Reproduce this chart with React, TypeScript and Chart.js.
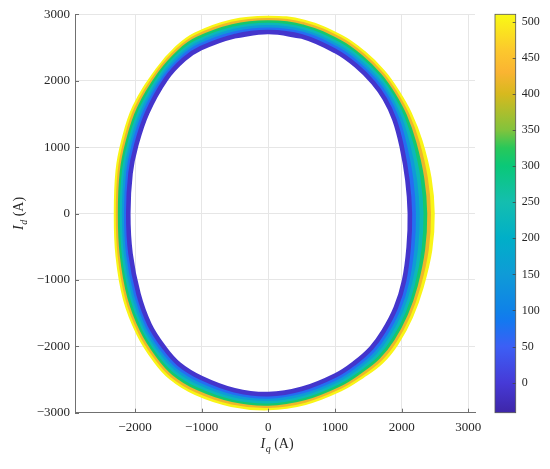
import React, { useEffect, useRef } from 'react';
import { Chart, registerables } from 'chart.js';

Chart.register(...registerables);

const FONT = '"Liberation Serif", "Times New Roman", serif';

// Colour levels of the drawn loops (colour-bar units), inner to outer
const levels = [-10, 70, 150, 230, 310, 420, 505];

// Loops of (Iq, Id) in A, inner to outer
const loop0: [number, number][] = [[0,2733],[504,2666],[1011,2443],[1315,2228],[1571,1972],[1746,1725],[1892,1413],[2000,1011],[2086,504],[2123,0],[2105,-507],[2036,-1014],[1912,-1419],[1728,-1774],[1542,-2029],[1295,-2249],[1011,-2436],[507,-2640],[0,-2720],[-507,-2661],[-1002,-2477],[-1338,-2269],[-1572,-2005],[-1783,-1670],[-1948,-1211],[-2067,-606],[-2101,0],[-2067,606],[-1986,1011],[-1818,1513],[-1538,2020],[-1264,2322],[-1012,2490],[-507,2671]];
const loop1: [number, number][] = [[0,2768],[510,2702],[1024,2479],[1334,2260],[1597,1998],[1778,1743],[1930,1429],[2046,1024],[2141,510],[2179,0],[2158,-514],[2079,-1031],[1950,-1441],[1761,-1803],[1568,-2062],[1314,-2282],[1024,-2471],[514,-2675],[0,-2755],[-514,-2697],[-1016,-2515],[-1358,-2302],[-1595,-2037],[-1810,-1693],[-1981,-1224],[-2099,-612],[-2131,0],[-2099,612],[-2018,1024],[-1849,1529],[-1558,2043],[-1281,2351],[-1026,2524],[-514,2707]];
const loop2: [number, number][] = [[0,2804],[515,2739],[1037,2515],[1352,2293],[1622,2024],[1809,1761],[1967,1444],[2093,1037],[2195,515],[2236,0],[2212,-522],[2122,-1048],[1987,-1463],[1794,-1831],[1594,-2096],[1332,-2316],[1037,-2505],[522,-2710],[0,-2790],[-522,-2734],[-1031,-2552],[-1379,-2336],[-1618,-2068],[-1838,-1717],[-2014,-1237],[-2131,-619],[-2162,0],[-2131,619],[-2049,1037],[-1880,1544],[-1579,2067],[-1298,2380],[-1041,2557],[-522,2744]];
const loop3: [number, number][] = [[0,2839],[520,2775],[1050,2551],[1370,2325],[1648,2050],[1840,1780],[2005,1460],[2140,1050],[2250,520],[2293,0],[2265,-530],[2165,-1065],[2025,-1485],[1828,-1860],[1620,-2130],[1350,-2350],[1050,-2540],[530,-2745],[0,-2825],[-530,-2770],[-1045,-2590],[-1400,-2370],[-1641,-2099],[-1865,-1740],[-2048,-1250],[-2163,-625],[-2193,0],[-2163,625],[-2080,1050],[-1911,1560],[-1600,2090],[-1315,2409],[-1055,2591],[-530,2780]];
const loop4: [number, number][] = [[0,2874],[525,2811],[1063,2587],[1388,2358],[1673,2076],[1871,1798],[2043,1476],[2187,1063],[2305,525],[2349,0],[2318,-538],[2208,-1082],[2063,-1507],[1861,-1889],[1646,-2164],[1368,-2384],[1063,-2574],[538,-2780],[0,-2860],[-538,-2806],[-1059,-2628],[-1421,-2404],[-1664,-2130],[-1892,-1763],[-2081,-1263],[-2194,-632],[-2223,0],[-2194,632],[-2111,1063],[-1942,1576],[-1621,2113],[-1332,2438],[-1069,2625],[-538,2816]];
const loop5: [number, number][] = [[0,2910],[530,2848],[1076,2623],[1406,2390],[1698,2102],[1902,1816],[2080,1491],[2234,1076],[2359,530],[2406,0],[2372,-546],[2251,-1099],[2100,-1529],[1894,-1917],[1672,-2198],[1386,-2418],[1076,-2608],[546,-2815],[0,-2895],[-546,-2843],[-1074,-2665],[-1442,-2438],[-1687,-2161],[-1920,-1787],[-2114,-1276],[-2226,-638],[-2254,0],[-2226,638],[-2142,1076],[-1973,1591],[-1642,2137],[-1349,2467],[-1084,2658],[-546,2853]];
const loop6: [number, number][] = [[0,2945],[536,2884],[1089,2659],[1425,2423],[1724,2128],[1934,1834],[2118,1507],[2280,1089],[2414,536],[2462,0],[2425,-553],[2294,-1116],[2138,-1551],[1927,-1946],[1698,-2231],[1405,-2451],[1089,-2643],[553,-2850],[0,-2930],[-553,-2879],[-1088,-2703],[-1462,-2471],[-1710,-2193],[-1947,-1810],[-2147,-1289],[-2258,-645],[-2284,0],[-2258,645],[-2174,1089],[-2004,1607],[-1662,2160],[-1366,2496],[-1098,2692],[-553,2889]];
const loops = [loop0, loop1, loop2, loop3, loop4, loop5, loop6];

// Axes
const xTickValues = [-2000, -1000, 0, 1000, 2000, 3000];
const yTickValues = [-3000, -2000, -1000, 0, 1000, 2000, 3000];
const cbTickValues = [0, 50, 100, 150, 200, 250, 300, 350, 400, 450, 500];
const xRange = [-2900, 3100];
const yRange = [-3000, 3000];
const cbRange = [-41.5, 510];

// Colour map (parula-like) stops
const cbStopValues = [-41.5, 0, 50, 85, 100, 150, 200, 250, 300, 325, 350, 400, 430, 460, 510];
const cbStopColors: [number, number, number][] = [
  [62, 38, 168], [70, 58, 215], [60, 95, 245], [20, 120, 240], [15, 130, 232],
  [15, 155, 215], [0, 175, 200], [20, 190, 175], [10, 200, 120], [40, 200, 90],
  [130, 195, 60], [215, 185, 30], [250, 180, 50], [252, 200, 45], [249, 250, 20],
];

const xTitle = ['I', 'q', '(A)'];
const yTitle = ['I', 'd', '(A)'];

function rgb(c: [number, number, number]) {
  return `rgb(${Math.round(c[0])},${Math.round(c[1])},${Math.round(c[2])})`;
}
function colorAt(v: number): string {
  const n = cbStopValues.length;
  if (v <= cbStopValues[0]) return rgb(cbStopColors[0]);
  if (v >= cbStopValues[n - 1]) return rgb(cbStopColors[n - 1]);
  for (let i = 0; i < n - 1; i++) {
    const a = cbStopValues[i], b = cbStopValues[i + 1];
    if (v >= a && v <= b) {
      const t = (v - a) / (b - a);
      const c0 = cbStopColors[i], c1 = cbStopColors[i + 1];
      return rgb([0, 1, 2].map((k) => c0[k] + (c1[k] - c0[k]) * t) as [number, number, number]);
    }
  }
  return rgb(cbStopColors[n - 1]);
}
function fmt(v: number) {
  return v < 0 ? '\u2212' + Math.abs(v) : String(v);
}

function drawSubLabel(ctx: CanvasRenderingContext2D, parts: string[], size: number) {
  ctx.textAlign = 'left';
  ctx.textBaseline = 'alphabetic';
  ctx.font = `italic ${size}px ${FONT}`;
  ctx.fillText(parts[0], 0, 0);
  let x = ctx.measureText(parts[0]).width + 0.5;
  const sub = Math.round(size * 0.72);
  ctx.font = `italic ${sub}px ${FONT}`;
  ctx.fillText(parts[1], x, size * 0.3);
  x += ctx.measureText(parts[1]).width;
  ctx.font = `${size}px ${FONT}`;
  ctx.fillText(' ' + parts[2], x, 0);
}

const decorPlugin = {
  id: 'decor',
  afterDraw(chart: any) {
    const ctx: CanvasRenderingContext2D = chart.ctx;
    const { left, bottom } = chart.chartArea;
    const xs = chart.scales.x;
    const ys = chart.scales.y;
    const cb = chart.scales.cb;
    ctx.save();
    // inward tick marks
    ctx.strokeStyle = '#6e6e6e';
    ctx.lineWidth = 1;
    ctx.beginPath();
    xTickValues.forEach((v) => {
      const px = Math.round(xs.getPixelForValue(v)) + 0.5;
      ctx.moveTo(px, bottom);
      ctx.lineTo(px, bottom - 4);
    });
    yTickValues.forEach((v) => {
      const py = Math.round(ys.getPixelForValue(v)) + 0.5;
      ctx.moveTo(left, py);
      ctx.lineTo(left + 4, py);
    });
    ctx.stroke();

    // colour bar
    const bx = cb.left + 20;
    const bw = 20.7;
    const top = cb.getPixelForValue(cbRange[1]);
    const bot = cb.getPixelForValue(cbRange[0]);
    const grad = ctx.createLinearGradient(0, bot, 0, top);
    cbStopValues.forEach((v, i) => {
      grad.addColorStop((v - cbRange[0]) / (cbRange[1] - cbRange[0]), rgb(cbStopColors[i]));
    });
    ctx.fillStyle = grad;
    ctx.fillRect(bx, top, bw, bot - top);
    ctx.strokeStyle = '#555555';
    ctx.lineWidth = 0.8;
    ctx.strokeRect(bx, top, bw, bot - top);
    ctx.beginPath();
    cbTickValues.forEach((v) => {
      const py = Math.round(cb.getPixelForValue(v)) + 0.5;
      ctx.moveTo(bx + bw - 3, py);
      ctx.lineTo(bx + bw, py);
    });
    ctx.strokeStyle = '#444444';
    ctx.stroke();

    // axis titles
    ctx.fillStyle = '#262626';
    ctx.save();
    ctx.translate(260.5, 448);
    drawSubLabel(ctx, xTitle, 14);
    ctx.restore();
    ctx.save();
    ctx.translate(23, 230);
    ctx.rotate(-Math.PI / 2);
    drawSubLabel(ctx, yTitle, 14);
    ctx.restore();
    ctx.restore();
  },
};

export default function App() {
  const ref = useRef<HTMLCanvasElement>(null);
  useEffect(() => {
    if (!ref.current) return;
    const datasets = loops.map((loop, k) => {
      const n = loop.length;
      const seq = [loop[n - 1], ...loop, loop[0], loop[1]];
      return {
        label: `L${levels[k]}`,
        data: seq.map(([x, y]) => ({ x, y })),
        borderColor: colorAt(levels[k]),
        backgroundColor: colorAt(levels[k]),
        borderWidth: 4.6,
        pointRadius: 0,
        pointHoverRadius: 0,
        tension: 0.4,
        cubicInterpolationMode: 'default' as const,
        borderJoinStyle: 'round' as const,
        borderCapStyle: 'round' as const,
        fill: false,
        order: k,
      };
    });
    const tickFont = { family: FONT, size: 13 };
    const noPad = (s: any) => { s.paddingTop = 0; s.paddingBottom = 0; };
    const chart = new Chart(ref.current, {
      type: 'line',
      data: { datasets },
      options: {
        animation: false,
        responsive: false,
        events: [],
        layout: { padding: { left: 0, right: 0, top: 14.3, bottom: 0 } },
        plugins: { legend: { display: false }, tooltip: { enabled: false } },
        scales: {
          x: {
            type: 'linear',
            position: 'bottom',
            min: xRange[0],
            max: xRange[1],
            afterBuildTicks: (s: any) => { s.ticks = xTickValues.map((v) => ({ value: v })); },
            afterFit: (s: any) => { s.height = 56.3; s.paddingLeft = 0; s.paddingRight = 0; },
            grid: { color: '#e6e6e6', lineWidth: 1, drawTicks: false },
            border: { color: '#707070', width: 1 },
            ticks: { font: tickFont, color: '#262626', padding: 7, maxRotation: 0, autoSkip: false, callback: (v: any) => fmt(Number(v)) },
          },
          y: {
            type: 'linear',
            position: 'left',
            min: yRange[0],
            max: yRange[1],
            afterBuildTicks: (s: any) => { s.ticks = yTickValues.map((v) => ({ value: v })); },
            afterFit: (s: any) => { s.width = 75; noPad(s); },
            grid: { color: '#e6e6e6', lineWidth: 1, drawTicks: false },
            border: { color: '#707070', width: 1 },
            ticks: { font: tickFont, color: '#262626', padding: 5, autoSkip: false, callback: (v: any) => fmt(Number(v)) },
          },
          cb: {
            type: 'linear',
            position: 'right',
            min: cbRange[0],
            max: cbRange[1],
            afterBuildTicks: (s: any) => { s.ticks = cbTickValues.map((v) => ({ value: v })); },
            afterFit: (s: any) => { s.width = 75; noPad(s); },
            grid: { display: false, drawTicks: false, drawOnChartArea: false },
            border: { display: false },
            ticks: { font: { family: FONT, size: 12 }, color: '#262626', padding: 46.7, autoSkip: false, callback: (v: any) => String(v) },
          },
        },
      },
      plugins: [decorPlugin],
    } as any);
    return () => chart.destroy();
  }, []);
  return (
    <div style={{ position: 'fixed', left: 0, top: 0, width: 550, height: 469, background: '#ffffff' }}>
      <canvas ref={ref} width={550} height={469} style={{ display: 'block', width: 550, height: 469 }} />
    </div>
  );
}
